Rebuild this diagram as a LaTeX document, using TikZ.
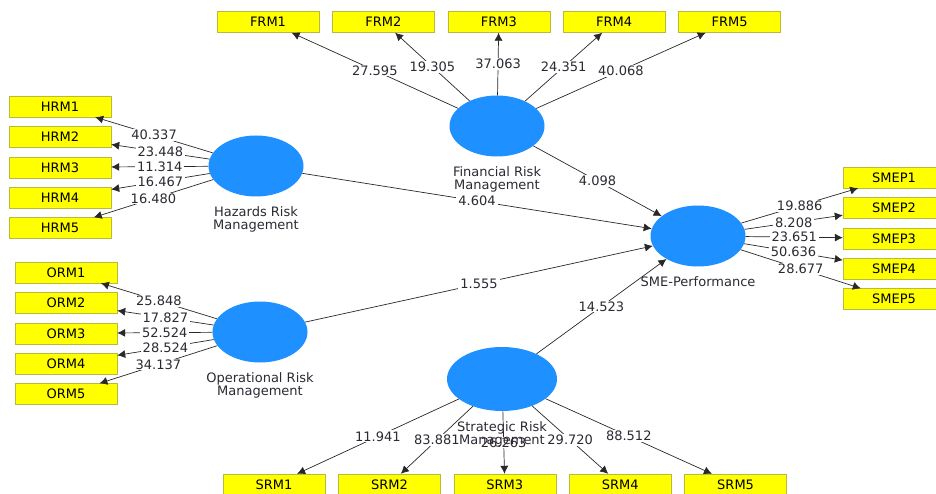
\documentclass[tikz,border=0pt]{standalone}
\usepackage{fontspec}
\setmainfont{DejaVu Sans}
\usetikzlibrary{positioning, arrows.meta, shapes.geometric}
\newcommand{\pathtip}{-{Latex[length=8pt,width=8pt]}}
\definecolor{lvblue}{RGB}{30,144,255}
\definecolor{indyellow}{RGB}{255,255,0}
\definecolor{indborder}{RGB}{185,185,60}
\definecolor{linegray}{RGB}{40,40,40}
\definecolor{textgray}{RGB}{45,40,50}

\begin{document}
\begin{tikzpicture}[x=1pt, y=-1pt,
    every node/.style={font=\fontsize{13}{13}\selectfont, text=textgray},
    ind/.style={shape=rectangle, draw=indborder, fill=indyellow, minimum width=102pt, minimum height=21pt, inner sep=0pt, text=black},
    lv/.style={shape=ellipse, fill=lvblue, minimum width=95pt, minimum height=61pt, inner sep=0pt},
    est/.style={midway, fill=white, inner xsep=2pt, inner ysep=1pt},
    link/.style={draw=linegray, line width=0.7pt},
    lvcap/.style={align=center, inner sep=0pt}]
    \useasboundingbox (0,0) rectangle (936,494);

    % latent variables
    \node[lv] (hazard) at (256,166) {};
    \node[lv] (operational) at (260,332) {};
    \node[lv] (financial) at (497,126) {};
    \node[lv] (sme) at (698,236) {};
    \node[lv, minimum width=110pt, minimum height=64pt] (strategic) at (502,379) {};

    % indicators
    \node[ind] (hrm1) at (60,106.5) {HRM1};
    \node[ind, below=9pt of hrm1] (hrm2) {HRM2};
    \node[ind, below=9pt of hrm2] (hrm3) {HRM3};
    \node[ind, below=9pt of hrm3] (hrm4) {HRM4};
    \node[ind, below=9pt of hrm4] (hrm5) {HRM5};

    \node[ind] (orm1) at (66,272.5) {ORM1};
    \node[ind, below=9pt of orm1] (orm2) {ORM2};
    \node[ind, below=9pt of orm2] (orm3) {ORM3};
    \node[ind, below=9pt of orm3] (orm4) {ORM4};
    \node[ind, below=9pt of orm4] (orm5) {ORM5};

    \node[ind] (frm1) at (268,22) {FRM1};
    \node[ind, right=13pt of frm1] (frm2) {FRM2};
    \node[ind, right=13pt of frm2] (frm3) {FRM3};
    \node[ind, right=13pt of frm3] (frm4) {FRM4};
    \node[ind, right=13pt of frm4] (frm5) {FRM5};

    \node[ind] (smep1) at (894,177.5) {SMEP1};
    \node[ind, below=9pt of smep1] (smep2) {SMEP2};
    \node[ind, below=9pt of smep2] (smep3) {SMEP3};
    \node[ind, below=9pt of smep3] (smep4) {SMEP4};
    \node[ind, below=9pt of smep4] (smep5) {SMEP5};

    \node[ind] (srm1) at (274,484.5) {SRM1};
    \node[ind, right=13pt of srm1] (srm2) {SRM2};
    \node[ind, right=13pt of srm2] (srm3) {SRM3};
    \node[ind, right=13pt of srm3] (srm4) {SRM4};
    \node[ind, right=13pt of srm4] (srm5) {SRM5};

    % outer model
    \draw[link, \pathtip] (hazard) -- node[est] {40.337} (hrm1);
    \draw[link, \pathtip] (hazard) -- node[est] {23.448} (hrm2);
    \draw[link, \pathtip] (hazard) -- node[est] {11.314} (hrm3);
    \draw[link, \pathtip] (hazard) -- node[est] {16.467} (hrm4);
    \draw[link, \pathtip] (hazard) -- node[est] {16.480} (hrm5);

    \draw[link, \pathtip] (operational) -- node[est] {25.848} (orm1);
    \draw[link, \pathtip] (operational) -- node[est] {17.827} (orm2);
    \draw[link, \pathtip] (operational) -- node[est] {52.524} (orm3);
    \draw[link, \pathtip] (operational) -- node[est] {28.524} (orm4);
    \draw[link, \pathtip] (operational) -- node[est] {34.137} (orm5);

    \draw[link, \pathtip] (financial) -- node[est] {27.595} (frm1);
    \draw[link, \pathtip] (financial) -- node[est] {19.305} (frm2);
    \draw[link, \pathtip] (financial) -- node[est] {37.063} (frm3);
    \draw[link, \pathtip] (financial) -- node[est] {24.351} (frm4);
    \draw[link, \pathtip] (financial) -- node[est] {40.068} (frm5);

    \draw[link, \pathtip] (sme) -- node[est] {19.886} (smep1);
    \draw[link, \pathtip] (sme) -- node[est] {8.208} (smep2);
    \draw[link, \pathtip] (sme) -- node[est] {23.651} (smep3);
    \draw[link, \pathtip] (sme) -- node[est] {50.636} (smep4);
    \draw[link, \pathtip] (sme) -- node[est] {28.677} (smep5);

    \draw[link, \pathtip] (strategic) -- node[est] {11.941} (srm1);
    \draw[link, \pathtip] (strategic) -- node[est] {83.881} (srm2);
    \draw[link, \pathtip] (strategic) -- node[est] {26.263} (srm3);
    \draw[link, \pathtip] (strategic) -- node[est] {29.720} (srm4);
    \draw[link, \pathtip] (strategic) -- node[est] {88.512} (srm5);

    % inner model
    \draw[link, \pathtip] (financial) -- node[est] {4.098} (sme);
    \draw[link, \pathtip] (hazard) -- node[est] {4.604} (sme);
    \draw[link, \pathtip] (operational) -- node[est] {1.555} (sme);
    \draw[link, \pathtip] (strategic) -- node[est] {14.523} (sme);

    % captions
    \node[lvcap, below=10pt of hazard] (hazardcap) {Hazards Risk\\Management};
    \node[lvcap, below=10pt of operational] (operationalcap) {Operational Risk\\Management};
    \node[lvcap, below=10pt of financial] (financialcap) {Financial Risk\\Management};
    \node[lvcap, below=10pt of sme] (smecap) {SME-Performance};
    \node[lvcap, below=10pt of strategic] (strategiccap) {Strategic Risk\\Management};
\end{tikzpicture}
\end{document}
